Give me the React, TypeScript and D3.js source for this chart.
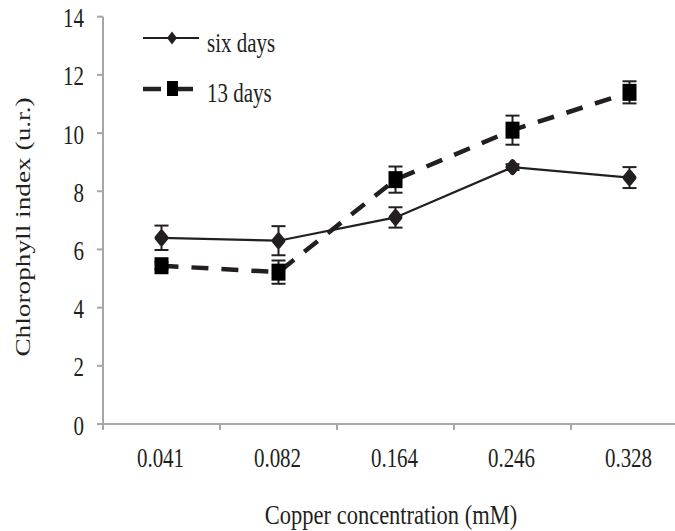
import React from 'react';
import * as d3 from 'd3';

const categories = ['0.041', '0.082', '0.164', '0.246', '0.328'];
const sixDays = [6.4, 6.3, 7.1, 8.83, 8.47];
const sixDaysErr = [0.42, 0.5, 0.35, 0.1, 0.36];
const thirteenDays = [5.44, 5.22, 8.4, 10.1, 11.4];
const thirteenDaysErr = [0.12, 0.4, 0.45, 0.5, 0.38];
const yTicks = [0, 2, 4, 6, 8, 10, 12, 14];
const seriesNames = ['six days', '13 days'];
const xTitle = 'Copper concentration (mM)';
const yTitle = 'Chlorophyll index (u.r.)';

const W = 675;
const H = 531;
const FONT = '"Liberation Serif", "Times New Roman", serif';
const INK = '#231f20';
const AXIS = '#a6a6a6';
const SY = 1.3;

export default function App() {
  const x = d3.scaleBand<string>().domain(categories).range([103, 688]);
  const bw = x.bandwidth();
  const cx = (c: string) => (x(c) as number) + bw / 2;
  const y = d3.scaleLinear().domain([0, 14]).range([424, 16.7]);

  const line = d3
    .line<number>()
    .x((_, i) => cx(categories[i]))
    .y((d) => y(d));

  const diamond = (px: number, py: number, hw: number, hh: number) =>
    `M${px},${py - hh}L${px + hw},${py}L${px},${py + hh}L${px - hw},${py}Z`;

  const errBars = (vals: number[], errs: number[], key: string) =>
    vals.map((v, i) => {
      const px = cx(categories[i]);
      const t = y(v + errs[i]);
      const b = y(v - errs[i]);
      return (
        <g key={key + i} stroke={INK} strokeWidth={2}>
          <line x1={px} x2={px} y1={t} y2={b} />
          <line x1={px - 7} x2={px + 7} y1={t} y2={t} />
          <line x1={px - 7} x2={px + 7} y1={b} y2={b} />
        </g>
      );
    });

  const xTickPos = [...categories.map((c) => x(c) as number), 688];

  return (
    <svg
      width={W}
      height={H}
      style={{ position: 'absolute', left: 0, top: 0, background: '#fff' }}
      fontFamily={FONT}
    >
      <rect x={0} y={0} width={W} height={H} fill="#fff" />
      {/* axes */}
      <g stroke={AXIS} strokeWidth={2} fill="none">
        <line x1={103} x2={103} y1={y(14)} y2={y(0)} />
        <line x1={97} x2={688} y1={y(0)} y2={y(0)} />
        {yTicks.map((t) => (
          <line key={'yt' + t} x1={97} x2={103} y1={y(t)} y2={y(t)} />
        ))}
        {xTickPos.map((p, i) => (
          <line key={'xt' + i} x1={p} x2={p} y1={y(0)} y2={y(0) + 6} />
        ))}
      </g>
      {/* y tick labels */}
      {yTicks.map((t) => (
        <text
          key={'yl' + t}
          transform={`translate(84,${y(t) + 10.5}) scale(1,${SY})`}
          textAnchor="end"
          fontSize={21}
          fill={INK}
        >
          {t}
        </text>
      ))}
      {/* x tick labels */}
      {categories.map((c) => (
        <text
          key={'xl' + c}
          transform={`translate(${cx(c) - 1},467) scale(1,${SY})`}
          textAnchor="middle"
          fontSize={21}
          fill={INK}
        >
          {c}
        </text>
      ))}
      {/* axis titles */}
      <text
        transform={`translate(391,524) scale(1,1.2)`}
        textAnchor="middle"
        fontSize={22.5}
        fill={INK}
      >
        {xTitle}
      </text>
      <text
        transform={`translate(30,227) scale(1,${SY}) rotate(-90)`}
        textAnchor="middle"
        fontSize={21}
        fill={INK}
      >
        {yTitle}
      </text>

      {/* series lines */}
      <path d={line(sixDays) || ''} fill="none" stroke={INK} strokeWidth={2.2} />
      <path
        d={line(thirteenDays) || ''}
        fill="none"
        stroke={INK}
        strokeWidth={4.5}
        strokeDasharray="17,13"
      />

      {errBars(sixDays, sixDaysErr, 's')}
      {errBars(thirteenDays, thirteenDaysErr, 't')}

      {/* markers */}
      {sixDays.map((v, i) => (
        <path
          key={'m6' + i}
          d={diamond(cx(categories[i]), y(v), 4.5, 5.5)}
          fill={INK}
          stroke={INK}
          strokeWidth={5}
          strokeLinejoin="round"
        />
      ))}
      {thirteenDays.map((v, i) => (
        <rect
          key={'m13' + i}
          x={cx(categories[i]) - 7}
          y={y(v) - 8.5}
          width={14}
          height={17}
          fill="#000"
        />
      ))}

      {/* legend */}
      <line x1={143} x2={199} y1={38} y2={38} stroke={INK} strokeWidth={2.2} />
      <path d={diamond(172, 38, 5, 6.5)} fill={INK} />
      <text transform={`translate(207,52) scale(1,${SY})`} fontSize={21} fill={INK}>
        {seriesNames[0]}
      </text>
      <line x1={143} x2={161} y1={89} y2={89} stroke={INK} strokeWidth={4.5} />
      <line x1={172} x2={193} y1={89} y2={89} stroke={INK} strokeWidth={4.5} />
      <rect x={167} y={81} width={11} height={15} fill="#000" />
      <text transform={`translate(207,102) scale(1,${SY})`} fontSize={21} fill={INK}>
        {seriesNames[1]}
      </text>
    </svg>
  );
}
